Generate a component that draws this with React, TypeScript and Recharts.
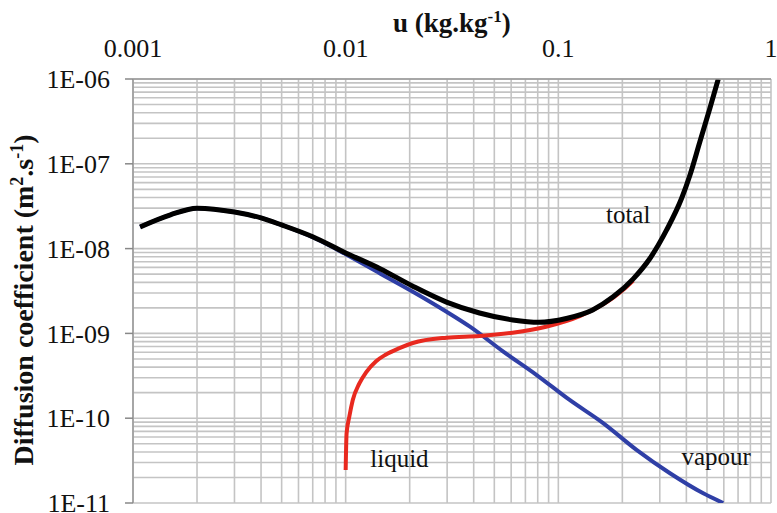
import React from "react";
import { LineChart, Line, XAxis, YAxis, CartesianGrid, ReferenceDot, Label } from "recharts";

const FONT = "'Liberation Serif', 'Times New Roman', serif";

// decades shown on the axes
const xDecades = [0.001, 0.01, 0.1, 1];
const yDecades = [1e-11, 1e-10, 1e-9, 1e-8, 1e-7, 1e-6];

// moisture content u (kg/kg) and diffusion coefficients (m2/s)
const uTotal = [0.00108, 0.0015, 0.002, 0.003, 0.004, 0.005, 0.007, 0.01, 0.0145, 0.0207, 0.0298, 0.0426, 0.061, 0.081, 0.109, 0.145, 0.181, 0.225, 0.27, 0.323, 0.38, 0.416, 0.463, 0.516, 0.565];
const dTotal = [1.8e-8, 2.5e-8, 3.0e-8, 2.7e-8, 2.3e-8, 1.9e-8, 1.38e-8, 8.9e-9, 5.8e-9, 3.6e-9, 2.34e-9, 1.74e-9, 1.44e-9, 1.35e-9, 1.5e-9, 1.89e-9, 2.7e-9, 4.4e-9, 7.7e-9, 1.66e-8, 3.92e-8, 7.38e-8, 1.82e-7, 4.51e-7, 1e-6];

const uVapour = [0.00108, 0.0015, 0.002, 0.003, 0.004, 0.005, 0.007, 0.01, 0.0145, 0.0207, 0.0298, 0.0384, 0.0551, 0.0791, 0.113, 0.163, 0.234, 0.335, 0.48, 0.596];
const dVapour = [1.8e-8, 2.5e-8, 3.0e-8, 2.7e-8, 2.3e-8, 1.9e-8, 1.36e-8, 8.6e-9, 5.1e-9, 3.1e-9, 1.8e-9, 1.2e-9, 6.1e-10, 3.23e-10, 1.64e-10, 8.7e-11, 4.2e-11, 2.24e-11, 1.3e-11, 1e-11];

const uLiquid = [0.01, 0.0101, 0.0104, 0.0108, 0.0116, 0.0125, 0.0139, 0.0154, 0.0179, 0.0207, 0.0298, 0.0426, 0.061, 0.0875, 0.126, 0.18, 0.2, 0.225];
const dLiquid = [2.45e-11, 6.6e-11, 1.04e-10, 1.64e-10, 2.57e-10, 3.5e-10, 4.7e-10, 5.6e-10, 6.7e-10, 7.7e-10, 8.9e-10, 9.3e-10, 1.02e-9, 1.2e-9, 1.6e-9, 2.6e-9, 3.2e-9, 4.2e-9];

const seriesLabels = [
  { text: "total", u: 0.213, d: 2.56e-8 },
  { text: "liquid", u: 0.0179, d: 3.4e-11 },
  { text: "vapour", u: 0.552, d: 3.6e-11 },
];

const toRows = (u: number[], d: number[]) => u.map((x, i) => ({ u: x, d: d[i] }));
const totalData = toRows(uTotal, dTotal);
const vapourData = toRows(uVapour, dVapour);
const liquidData = toRows(uLiquid, dLiquid);

// log grid: 1..9 times each decade
const withMinors = (decades: number[]) => {
  const out: number[] = [];
  decades.forEach((d, i) => {
    if (i === decades.length - 1) out.push(d);
    else for (let m = 1; m <= 9; m++) out.push(d * m);
  });
  return out;
};
const xTicks = withMinors(xDecades);
const yTicks = withMinors(yDecades);

const isDecade = (v: number) => Math.abs(Math.log10(v) - Math.round(Math.log10(v))) < 1e-6;
const sci = (v: number) => `1E-${String(Math.abs(Math.round(Math.log10(v)))).padStart(2, "0")}`;

const XTick = ({ x, y, payload }: any) => {
  if (!isDecade(payload.value)) return null;
  return (
    <text x={x} y={y} textAnchor="middle" fontFamily={FONT} fontSize={26} fill="#111">
      {String(Number(payload.value.toPrecision(3)))}
    </text>
  );
};

const YTick = ({ x, y, payload }: any) => {
  if (!isDecade(payload.value)) return null;
  return (
    <g>
      <line x1={x + 15} x2={x + 23} y1={y} y2={y} stroke="#888" strokeWidth={1.5} />
      <text x={x} y={y} dy="0.35em" textAnchor="end" fontFamily={FONT} fontSize={26} fill="#111">
        {sci(payload.value)}
      </text>
    </g>
  );
};

const XTitle = () => (
  <text x={393} y={32} fontFamily={FONT} fontWeight="bold" fontSize={27} fill="#111">
    <tspan>u (kg.kg</tspan>
    <tspan dy={-10} fontSize={17}>-1</tspan>
    <tspan dy={10}>)</tspan>
  </text>
);

const YTitle = () => (
  <text
    x={33}
    y={300}
    transform="rotate(-90, 33, 300)"
    textAnchor="middle"
    fontFamily={FONT}
    fontWeight="bold"
    fontSize={28}
    fill="#111"
  >
    <tspan>Diffusion  coefficient (m</tspan>
    <tspan dy={-10} fontSize={18}>2</tspan>
    <tspan dy={10}>.s</tspan>
    <tspan dy={-10} fontSize={18}>-1</tspan>
    <tspan dy={10}>)</tspan>
  </text>
);

export default function App() {
  return (
    <div style={{ position: "absolute", left: 0, top: 0, background: "#fff" }}>
      <LineChart width={777} height={513} margin={{ top: 49, right: 6, bottom: 10, left: 33 }}>
        <CartesianGrid stroke="#c4c4c4" strokeWidth={1.6} />
        <XAxis
          type="number"
          dataKey="u"
          scale="log"
          domain={[0.001, 1]}
          ticks={xTicks}
          interval={0}
          orientation="top"
          height={30}
          tickSize={0}
          tickMargin={22}
          tick={<XTick />}
          axisLine={{ stroke: "#999", strokeWidth: 1.5 }}
          allowDataOverflow
        >
          <Label content={<XTitle />} />
        </XAxis>
        <YAxis
          type="number"
          dataKey="d"
          scale="log"
          domain={[1e-11, 1e-6]}
          ticks={yTicks}
          interval={0}
          width={100}
          tickSize={8}
          tickMargin={15}
          tickLine={false}
          tick={<YTick />}
          axisLine={{ stroke: "#999", strokeWidth: 1.5 }}
          allowDataOverflow
        >
          <Label content={<YTitle />} />
        </YAxis>
        <Line data={vapourData} dataKey="d" type="monotone" stroke="#2f3fa6" strokeWidth={4} dot={false} isAnimationActive={false} />
        <Line data={liquidData} dataKey="d" type="monotone" stroke="#e8291f" strokeWidth={4} dot={false} isAnimationActive={false} />
        <Line data={totalData} dataKey="d" type="monotone" stroke="#000" strokeWidth={5} dot={false} isAnimationActive={false} />
        {seriesLabels.map((l) => (
          <ReferenceDot
            key={l.text}
            x={l.u}
            y={l.d}
            r={0}
            fill="none"
            stroke="none"
            label={{ value: l.text, position: "center", fontFamily: FONT, fontSize: 25, fill: "#111" }}
          />
        ))}
      </LineChart>
    </div>
  );
}
